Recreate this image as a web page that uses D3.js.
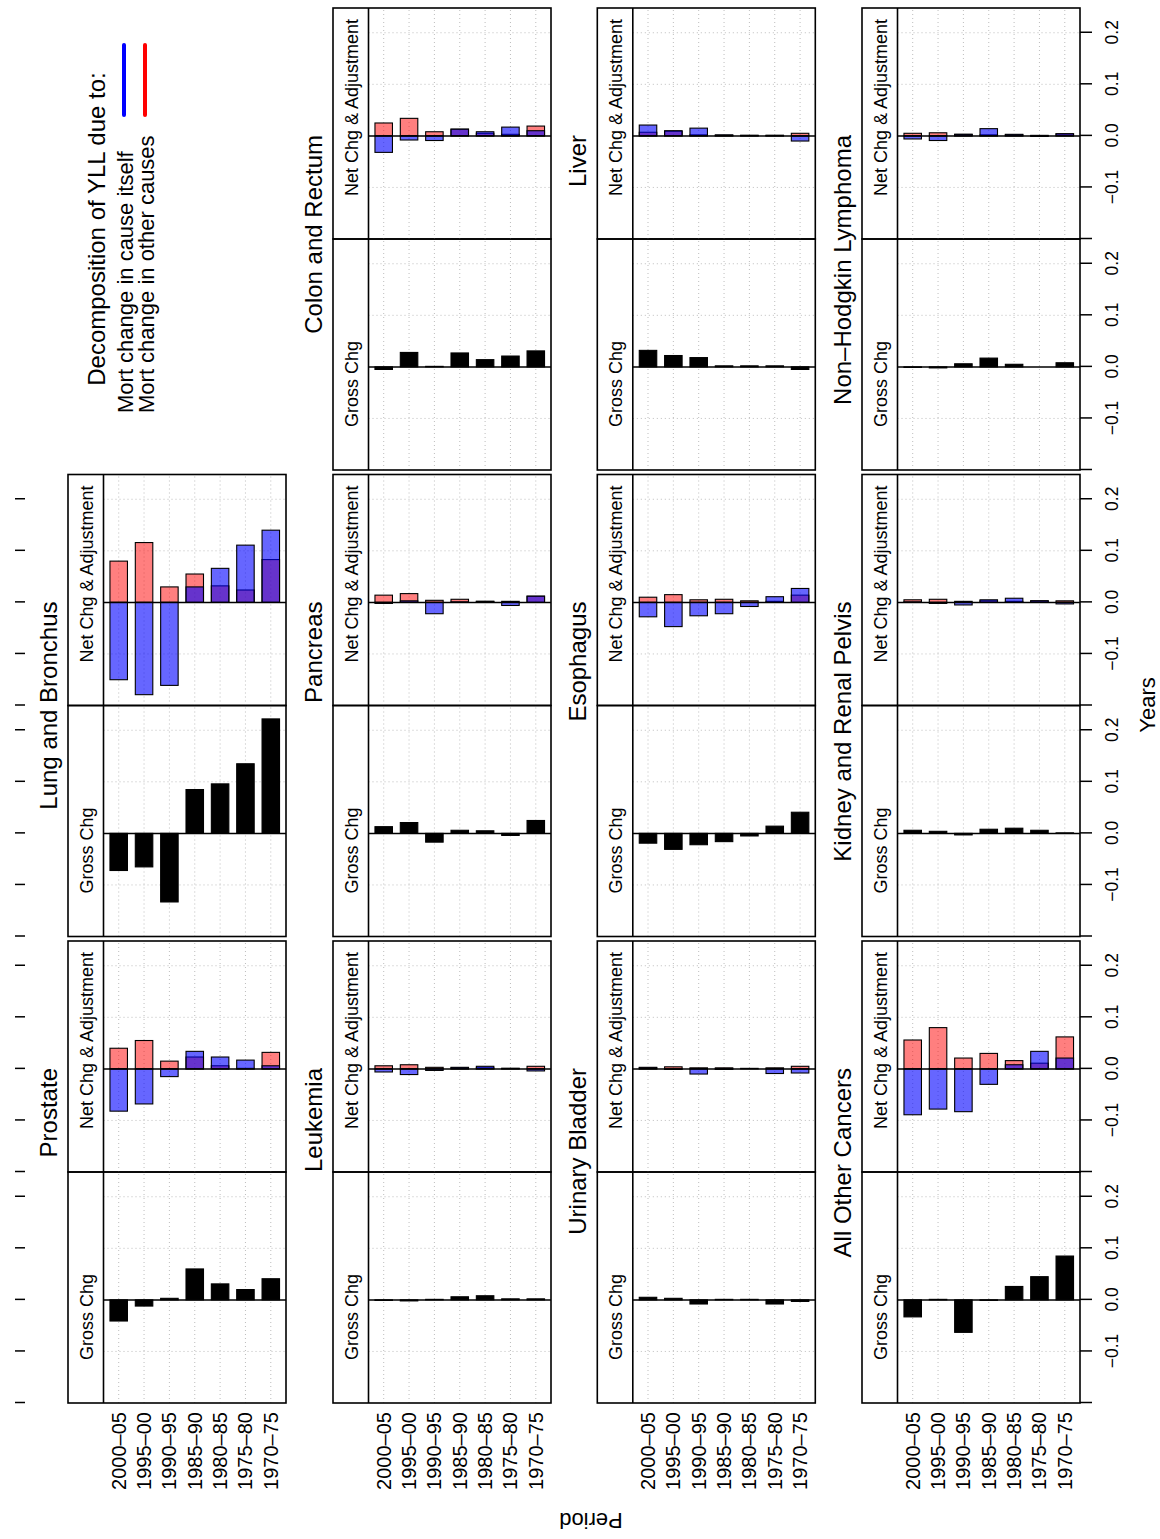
<!DOCTYPE html>
<html>
<head>
<meta charset="utf-8">
<title>Decomposition of YLL</title>
<script src="https://d3js.org/d3.v7.min.js"></script>
<style>
  body { margin: 0; background: #fff; }
  text { font-family: "Liberation Sans", Arial, Helvetica, sans-serif; fill: #000; }
</style>
</head>
<body>
<svg id="chart" width="1160" height="1539"></svg>
<script>
// periods, top to bottom inside each panel
var periods = ["2000–05", "1995–00", "1990–95", "1985–90", "1980–85", "1975–80", "1970–75"];

// causes in reading order of the (unrotated) grid; the legend takes the 3rd slot
var causes = ["Prostate", "Lung and Bronchus",
              "Leukemia", "Pancreas", "Colon and Rectum",
              "Urinary Bladder", "Esophagus", "Liver",
              "All Other Cancers", "Kidney and Renal Pelvis", "Non–Hodgkin Lymphoma"];

// gross change in YLL (years)
var grossChg = [
  [-0.041, -0.012, 0.003, 0.060, 0.031, 0.020, 0.041],
  [-0.072, -0.065, -0.133, 0.085, 0.096, 0.135, 0.222],
  [-0.001, -0.002, 0.001, 0.006, 0.008, 0.002, 0.002],
  [0.013, 0.021, -0.017, 0.006, 0.005, -0.004, 0.025],
  [-0.005, 0.028, 0.001, 0.027, 0.014, 0.021, 0.031],
  [0.005, 0.003, -0.008, 0.001, 0.001, -0.008, -0.003],
  [-0.019, -0.031, -0.022, -0.016, -0.005, 0.014, 0.041],
  [0.032, 0.022, 0.018, 0.002, 0.002, 0.002, -0.005],
  [-0.033, 0.001, -0.063, -0.001, 0.026, 0.045, 0.085],
  [0.006, 0.004, -0.003, 0.008, 0.010, 0.006, 0.001],
  [-0.001, -0.002, 0.006, 0.017, 0.005, 0.000, 0.008]
];

// part due to mortality change in other causes (red)
var otherCauses = [
  [0.040, 0.055, 0.015, 0.023, 0.006, 0.001, 0.032],
  [0.080, 0.116, 0.030, 0.055, 0.032, 0.024, 0.083],
  [0.006, 0.008, 0.003, 0.002, 0.002, 0.001, 0.005],
  [0.014, 0.017, 0.004, 0.006, 0.002, 0.002, 0.012],
  [0.025, 0.034, 0.008, 0.013, 0.005, 0.003, 0.019],
  [0.003, 0.004, 0.002, 0.002, 0.001, 0.002, 0.005],
  [0.010, 0.015, 0.005, 0.006, 0.003, 0.002, 0.014],
  [0.007, 0.009, 0.002, 0.001, 0.001, 0.001, 0.005],
  [0.056, 0.080, 0.021, 0.030, 0.016, 0.011, 0.062],
  [0.005, 0.006, 0.002, 0.003, 0.002, 0.003, 0.003],
  [0.005, 0.006, 0.003, 0.002, 0.002, 0.001, 0.004]
];

// part due to mortality change in the cause itself (blue)
var causeItself = [
  [-0.082, -0.068, -0.015, 0.034, 0.023, 0.017, 0.006],
  [-0.150, -0.179, -0.161, 0.030, 0.066, 0.111, 0.140],
  [-0.006, -0.011, -0.003, 0.003, 0.005, 0.001, -0.004],
  [-0.002, 0.003, -0.022, 0.001, 0.002, -0.006, 0.012],
  [-0.032, -0.008, -0.009, 0.013, 0.008, 0.017, 0.010],
  [0.002, -0.001, -0.010, -0.001, 0.000, -0.009, -0.008],
  [-0.028, -0.047, -0.026, -0.022, -0.008, 0.011, 0.027],
  [0.021, 0.010, 0.015, 0.002, 0.001, 0.001, -0.010],
  [-0.089, -0.078, -0.083, -0.030, 0.008, 0.034, 0.021],
  [0.001, -0.002, -0.005, 0.005, 0.008, 0.003, -0.003],
  [-0.006, -0.009, 0.003, 0.014, 0.003, -0.001, 0.004]
];

var tickVals = [-0.2, -0.1, 0, 0.1, 0.2];
var legendLabels = ["Mort change in cause itself", "Mort change in other causes"];
var legendColors = ["#0000ff", "#ff0000"];

// the figure is drawn as a landscape page and then turned a quarter turn
var W = 1539, H = 1160;
var colLeft = [136, 602.5, 1069], subW = 231;
var rowTop = [68, 333, 597.3, 862], stripH = 35.5, panelH = 182.5;

var svg = d3.select("#chart");
svg.append("rect").attr("width", 1160).attr("height", 1539).attr("fill", "white");
var root = svg.append("g").attr("transform", "translate(0," + W + ") rotate(-90)");

var x = d3.scaleLinear().domain([-0.2, 0.248]).range([0, subW]);
var yPos = d3.scalePoint().domain(periods).range([0, panelH]).padding(0.6);
var bw = yPos.step() * 0.69;

function drawBars(g, vals, fill, opacity) {
  g.selectAll(null)
    .data(vals)
    .enter()
    .append("rect")
    .attr("x", function(d) { return Math.min(x(0), x(d)); })
    .attr("y", function(d, i) { return yPos(periods[i]) - bw / 2; })
    .attr("width", function(d) { return Math.abs(x(d) - x(0)); })
    .attr("height", bw)
    .attr("fill", fill)
    .attr("fill-opacity", opacity)
    .attr("stroke", "#000")
    .attr("stroke-width", 1.1);
}

causes.forEach(function(cause, i) {
  var slot = i < 2 ? i : i + 1;
  var row = Math.floor(slot / 3), col = slot % 3;
  var g = root.append("g")
    .attr("transform", "translate(" + colLeft[col] + "," + rowTop[row] + ")");

  g.append("text")
    .attr("x", 335)
    .attr("y", -11)
    .attr("text-anchor", "end")
    .style("font-size", "24px")
    .text(cause);

  var subs = [
    {name: "Gross Chg", off: 0},
    {name: "Net Chg & Adjustment", off: subW}
  ];

  subs.forEach(function(s, k) {
    var sg = g.append("g").attr("transform", "translate(" + s.off + ",0)");

    sg.append("text")
      .attr("x", 43)
      .attr("y", 24.5)
      .style("font-size", "18px")
      .text(s.name);

    var pg = sg.append("g").attr("transform", "translate(0," + stripH + ")");

    // dotted grid
    pg.selectAll(null).data([-0.1, 0.1, 0.2]).enter().append("line")
      .attr("x1", function(d) { return x(d); })
      .attr("x2", function(d) { return x(d); })
      .attr("y1", 0).attr("y2", panelH)
      .attr("stroke", "#bdbdbd").attr("stroke-dasharray", "1,3");
    pg.selectAll(null).data(periods).enter().append("line")
      .attr("x1", 0).attr("x2", subW)
      .attr("y1", function(d) { return yPos(d); })
      .attr("y2", function(d) { return yPos(d); })
      .attr("stroke", "#bdbdbd").attr("stroke-dasharray", "1,3");

    if (k == 0) {
      drawBars(pg, grossChg[i], "#000", 1);
    } else {
      drawBars(pg, otherCauses[i], "#ff0000", 0.5);
      drawBars(pg, causeItself[i], "#0000ff", 0.6);
    }

    pg.append("line")
      .attr("x1", x(0)).attr("x2", x(0))
      .attr("y1", 0).attr("y2", panelH)
      .attr("stroke", "#000").attr("stroke-width", 1.5);

    sg.append("rect")
      .attr("width", subW).attr("height", stripH + panelH)
      .attr("fill", "none").attr("stroke", "#000").attr("stroke-width", 1.6);
    sg.append("line")
      .attr("x1", 0).attr("x2", subW)
      .attr("y1", stripH).attr("y2", stripH)
      .attr("stroke", "#000").attr("stroke-width", 1.6);

    // tick marks on top of the first row, labelled ticks under the last row
    if (row == 0) {
      var top = g.append("g")
        .attr("transform", "translate(" + s.off + "," + (25 - rowTop[0]) + ")")
        .call(d3.axisTop(x).tickValues(tickVals).tickSize(10).tickFormat(""));
      top.select(".domain").remove();
      top.selectAll("line").attr("stroke-width", 1.5);
    }
    if (row == 3) {
      var bot = g.append("g")
        .attr("transform", "translate(" + s.off + "," + (stripH + panelH) + ")")
        .call(d3.axisBottom(x).tickValues(tickVals).tickSize(12).tickPadding(14)
          .tickFormat(function(d) { return d < -0.15 ? "" : d3.format(".1f")(d); }));
      bot.select(".domain").remove();
      bot.selectAll("line").attr("stroke-width", 1.5);
      bot.selectAll("text").attr("font-family", null).style("font-size", "17.5px");
    }
  });

  // period labels at the left of each row
  if (col == 0) {
    var ax = g.append("g")
      .attr("transform", "translate(-9," + stripH + ")")
      .call(d3.axisLeft(yPos).tickSize(0).tickPadding(0));
    ax.select(".domain").remove();
    ax.selectAll("text").attr("font-family", null).style("font-size", "20px");
  }
});

// axis titles
root.append("text")
  .attr("x", 834).attr("y", 1155)
  .attr("text-anchor", "middle")
  .style("font-size", "22px")
  .text("Years");
root.append("text")
  .attr("transform", "translate(26,591) rotate(-90)")
  .attr("text-anchor", "middle")
  .style("font-size", "22px")
  .text("Period");

// legend in the empty slot
var leg = root.append("g");
leg.append("text")
  .attr("x", 1310).attr("y", 105)
  .attr("text-anchor", "middle")
  .style("font-size", "24px")
  .text("Decomposition of YLL due to:");
legendLabels.forEach(function(lab, j) {
  leg.append("text")
    .attr("x", 1126).attr("y", 133 + j * 21)
    .style("font-size", "22px")
    .text(lab);
  leg.append("line")
    .attr("x1", 1424).attr("x2", 1494)
    .attr("y1", 124 + j * 21).attr("y2", 124 + j * 21)
    .attr("stroke", legendColors[j])
    .attr("stroke-width", 4)
    .attr("stroke-linecap", "round");
});
</script>
</body>
</html>
